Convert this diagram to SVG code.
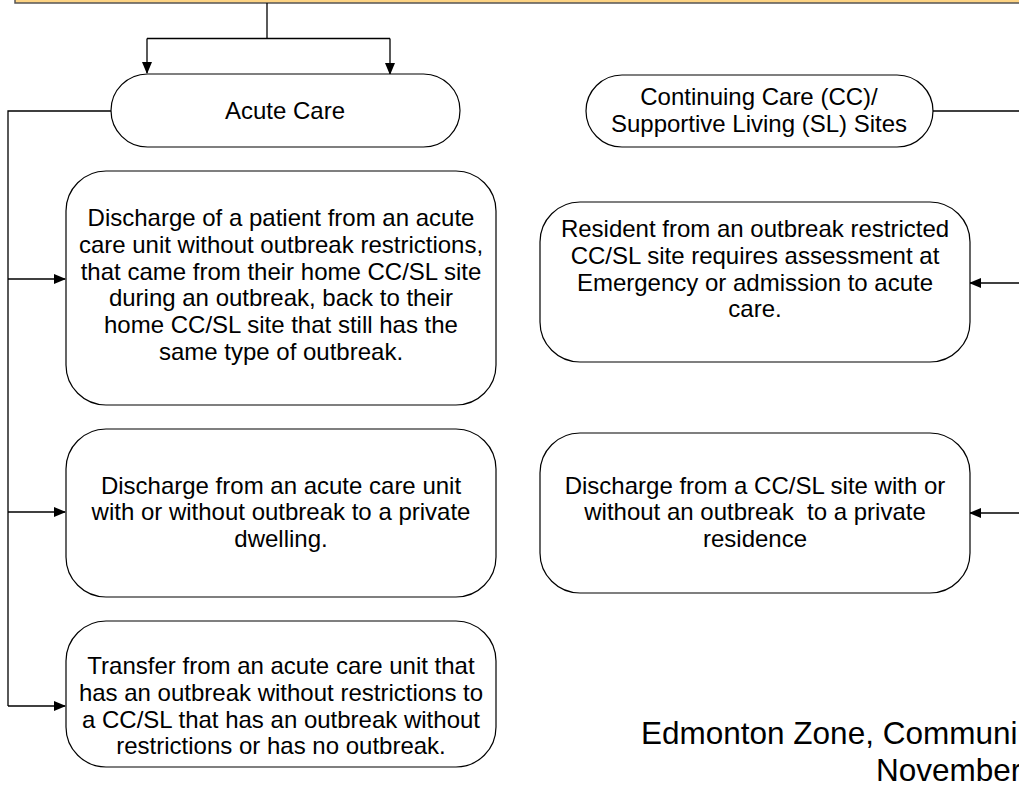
<svg xmlns="http://www.w3.org/2000/svg" width="1019" height="788" viewBox="0 0 1019 788">
<style>
.box{fill:#fff;stroke:#000;stroke-width:1.2}
.t{font-family:"Liberation Sans",Arial,sans-serif;font-size:24px;fill:#000;text-anchor:middle}
.c{fill:none;stroke:#000;stroke-width:1.3}
.foot{font-family:"Liberation Sans",Arial,sans-serif;font-size:31.5px;fill:#000}
</style>
<defs>
<marker id="ah" markerWidth="12" markerHeight="10" refX="11" refY="5" orient="auto" markerUnits="userSpaceOnUse">
<path d="M0,0 L12,5 L0,10 Z" fill="#000"/>
</marker>
</defs>
<rect width="1019" height="788" fill="#fff"/>
<g id="topbar">
<rect x="15" y="-20" width="1020" height="23" fill="#FDD383" stroke="#555" stroke-width="1.5"/>
</g>
<g id="connectors">
<path class="c" d="M267,3 V38.5"/>
<path class="c" d="M147,38.5 H390"/>
<path class="c" d="M147,38.5 V73" marker-end="url(#ah)"/>
<path class="c" d="M390,38.5 V74" marker-end="url(#ah)"/>
<path class="c" d="M111,111 H8 V706"/>
<path class="c" d="M8,279 H65" marker-end="url(#ah)"/>
<path class="c" d="M8,512 H65" marker-end="url(#ah)"/>
<path class="c" d="M8,706 H65" marker-end="url(#ah)"/>
<path class="c" d="M933,111 H1019"/>
<path class="c" d="M1019,283 H970" marker-end="url(#ah)"/>
<path class="c" d="M1019,513 H970" marker-end="url(#ah)"/>
</g>
<g id="acute">
<rect class="box" x="111" y="74" width="349" height="73" rx="36.5"/>
<text class="t" x="285" y="119">Acute Care</text>
</g>
<g id="cc">
<rect class="box" x="586" y="75" width="347" height="72" rx="36"/>
<text class="t" x="759" y="105">Continuing Care (CC)/</text>
<text class="t" x="759" y="132">Supportive Living (SL) Sites</text>
</g>
<g id="box1">
<rect class="box" x="66" y="171" width="430" height="234" rx="40"/>
<text class="t" x="281" y="226">Discharge of a patient from an acute</text>
<text class="t" x="281" y="253">care unit without outbreak restrictions,</text>
<text class="t" x="281" y="280">that came from their home CC/SL site</text>
<text class="t" x="281" y="306">during an outbreak, back to their</text>
<text class="t" x="281" y="333">home CC/SL site that still has the</text>
<text class="t" x="281" y="360">same type of outbreak.</text>
</g>
<g id="box2">
<rect class="box" x="66" y="429" width="430" height="168" rx="40"/>
<text class="t" x="281" y="494">Discharge from an acute care unit</text>
<text class="t" x="281" y="520">with or without outbreak to a private</text>
<text class="t" x="281" y="547">dwelling.</text>
</g>
<g id="box3">
<rect class="box" x="66" y="621" width="430" height="146" rx="40"/>
<text class="t" x="281" y="674">Transfer from an acute care unit that</text>
<text class="t" x="281" y="701">has an outbreak without restrictions to</text>
<text class="t" x="281" y="728">a CC/SL that has an outbreak without</text>
<text class="t" x="281" y="754">restrictions or has no outbreak.</text>
</g>
<g id="box4">
<rect class="box" x="540" y="202" width="430" height="160" rx="40"/>
<text class="t" x="755" y="237">Resident from an outbreak restricted</text>
<text class="t" x="755" y="264">CC/SL site requires assessment at</text>
<text class="t" x="755" y="291">Emergency or admission to acute</text>
<text class="t" x="755" y="317">care.</text>
</g>
<g id="box5">
<rect class="box" x="540" y="433" width="430" height="160" rx="40"/>
<text class="t" x="755" y="494">Discharge from a CC/SL site with or</text>
<text class="t" x="755" y="520" xml:space="preserve">without an outbreak  to a private</text>
<text class="t" x="755" y="547">residence</text>
</g>
<g id="footer">
<text class="foot" x="641" y="744">Edmonton Zone, Communi</text>
<text class="foot" x="876" y="781">November</text>
</g>
</svg>
